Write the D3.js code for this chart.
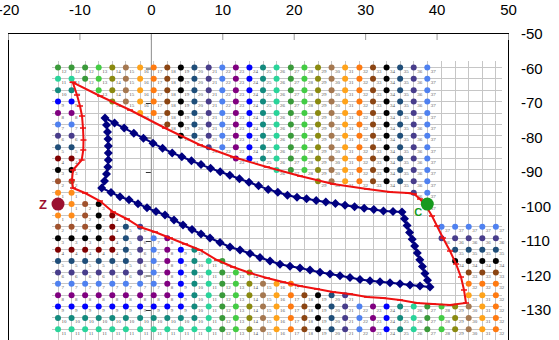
<!DOCTYPE html>
<html>
<head>
<meta charset="utf-8">
<script src="https://cdn.jsdelivr.net/npm/d3@7"></script>
<style>
  body { margin: 0; background: #fff; }
  svg { display: block; font-family: "Liberation Sans", Arial, sans-serif; }
</style>
</head>
<body>
<div class="chart"></div>
<script>
const xTicks = [-20, -10, 0, 10, 20, 30, 40, 50]
const yTicks = [-50, -60, -70, -80, -90, -100, -110, -120, -130, -140]

// lattice of the zone points
const gridX = [-13.0, -11.1, -9.2, -7.3, -5.4, -3.5, -1.5, 0.4, 2.3, 4.2, 6.1, 8.1, 10.0, 11.9, 13.8, 15.7, 17.6,
    19.6, 21.5, 23.4, 25.3, 27.2, 29.2, 31.1, 33.0, 34.9, 36.8, 38.7, 40.7, 42.6, 44.5, 46.4, 48.3]
const gridY = [-59.7, -63.0, -66.3, -69.6, -72.9, -76.2, -79.5, -82.8, -86.1, -89.4, -92.7, -96.0,
    -99.3, -102.6, -105.9, -109.2, -112.5, -115.8, -119.1, -122.4, -125.7, -129.0, -132.3, -135.6]

// step count of each lattice point (0 = no point)
const zoneLabels = [
    [12,12,12,13,14,15,16,17,18,19,20,21,22,23,24,25,26,27,28,29,30,31,32,33,34,35,36,37,0,0,0,0,0],
    [11,11,12,13,14,15,16,17,18,19,20,21,22,23,24,25,26,27,28,29,30,31,32,33,34,35,36,37,0,0,0,0,0],
    [10,10,0,13,14,15,16,17,18,19,20,21,22,23,24,25,26,27,28,29,30,31,32,33,34,35,36,37,0,0,0,0,0],
    [9,9,0,0,14,15,16,17,18,19,20,21,22,23,24,25,26,27,28,29,30,31,32,33,34,35,36,37,0,0,0,0,0],
    [8,8,0,0,0,0,16,17,18,19,20,21,22,23,24,25,26,27,28,29,30,31,32,33,34,35,36,37,0,0,0,0,0],
    [7,7,0,0,0,0,0,0,18,19,20,21,22,23,24,25,26,27,28,29,30,31,32,33,34,35,36,37,0,0,0,0,0],
    [6,6,0,0,0,0,0,0,0,19,20,21,22,23,24,25,26,27,28,29,30,31,32,33,34,35,36,37,0,0,0,0,0],
    [5,5,0,0,0,0,0,0,0,0,0,21,22,23,24,25,26,27,28,29,30,31,32,33,34,35,36,37,0,0,0,0,0],
    [4,4,0,0,0,0,0,0,0,0,0,0,0,23,24,25,26,27,28,29,30,31,32,33,34,35,36,37,0,0,0,0,0],
    [3,3,0,0,0,0,0,0,0,0,0,0,0,0,0,0,26,27,28,29,30,31,32,33,34,35,36,37,0,0,0,0,0],
    [2,2,0,0,0,0,0,0,0,0,0,0,0,0,0,0,0,0,0,29,30,31,32,33,34,35,36,37,0,0,0,0,0],
    [1,1,0,0,0,0,0,0,0,0,0,0,0,0,0,0,0,0,0,0,0,0,0,0,0,0,36,37,0,0,0,0,0],
    [0,1,2,3,0,0,0,0,0,0,0,0,0,0,0,0,0,0,0,0,0,0,0,0,0,0,0,37,0,0,0,0,0],
    [1,1,2,3,4,0,0,0,0,0,0,0,0,0,0,0,0,0,0,0,0,0,0,0,0,0,0,0,0,0,0,0,0],
    [2,2,2,3,4,5,6,0,0,0,0,0,0,0,0,0,0,0,0,0,0,0,0,0,0,0,0,0,37,37,37,37,37],
    [3,3,3,3,4,5,6,7,8,0,0,0,0,0,0,0,0,0,0,0,0,0,0,0,0,0,0,0,36,36,36,36,36],
    [4,4,4,4,4,5,6,7,8,9,10,0,0,0,0,0,0,0,0,0,0,0,0,0,0,0,0,0,0,35,35,35,35],
    [5,5,5,5,5,5,6,7,8,9,10,11,12,0,0,0,0,0,0,0,0,0,0,0,0,0,0,0,0,34,34,34,34],
    [6,6,6,6,6,6,6,7,8,9,10,11,12,13,14,0,0,0,0,0,0,0,0,0,0,0,0,0,0,0,33,33,33],
    [7,7,7,7,7,7,7,7,8,9,10,11,12,13,14,15,16,17,0,0,0,0,0,0,0,0,0,0,0,0,32,32,32],
    [8,8,8,8,8,8,8,8,8,9,10,11,12,13,14,15,16,17,18,19,20,21,0,0,0,0,0,0,0,0,31,31,32],
    [9,9,9,9,9,9,9,9,9,9,10,11,12,13,14,15,16,17,18,19,20,21,22,23,24,25,26,27,28,29,30,31,32],
    [10,10,10,10,10,10,10,10,10,10,10,11,12,13,14,15,16,17,18,19,20,21,22,23,24,25,26,27,28,29,30,31,32],
    [11,11,11,11,11,11,11,11,11,11,11,11,12,13,14,15,16,17,18,19,20,21,22,23,24,25,26,27,28,29,30,31,32]
]

// obstacle outline (red)
const outerX = [-10.94, -7.12, -2.92, 1.98, 6.88, 11.50, 16.26, 20.88, 25.50, 30.26, 33.48, 36.00, 36.84, 37.68,
    38.52, 39.36, 40.06, 40.90, 41.88, 42.72, 43.42, 43.84, 44.12, 41.88, 39.50, 37.26, 34.88, 32.50, 30.26, 27.88,
    25.50, 23.26, 20.88, 18.50, 16.26, 13.88, 11.50, 9.26, 6.88, 4.78, 2.68, 0.58, -1.52, -3.34, -5.30, -7.12,
    -9.22, -10.90, -11.04, -10.90, -9.68, -9.46, -9.43, -9.50, -9.64, -9.92, -10.34, -10.94]
const outerY = [-64.00, -67.97, -72.03, -77.25, -82.17, -85.65, -88.55, -91.16, -93.48, -94.93, -95.80, -96.09,
    -96.38, -97.83, -99.86, -102.75, -105.65, -109.13, -112.90, -116.67, -120.44, -124.20, -127.97, -128.55,
    -128.26, -127.97, -127.10, -126.52, -126.23, -125.36, -124.78, -123.91, -123.04, -121.89, -120.73, -119.28,
    -117.54, -115.51, -112.61, -110.87, -109.13, -107.39, -105.94, -103.62, -101.60, -98.41, -96.09, -94.64,
    -92.32, -89.42, -86.52, -83.62, -80.73, -77.25, -73.77, -70.87, -67.68, -64.00]

// inner outline (dark blue diamonds)
const innerX = [-6.42, -5.08, -3.73, -2.39, -1.04, 0.30, 1.64, 2.99, 4.33, 5.68, 7.02, 8.36, 9.71, 11.05, 12.40,
    13.74, 15.08, 16.43, 17.77, 19.12, 20.46, 21.80, 23.15, 24.49, 25.84, 27.18, 28.52, 29.87, 31.21, 32.56, 33.90,
    35.16, 35.51, 35.87, 36.22, 36.59, 36.94, 37.30, 37.65, 38.02, 38.37, 38.73, 39.08, 37.68, 36.28, 34.88, 33.48,
    32.08, 30.68, 29.28, 27.88, 26.48, 25.08, 23.68, 22.28, 20.88, 19.48, 18.08, 16.68, 15.28, 13.88, 12.48, 11.08,
    9.68, 8.28, 7.02, 5.76, 4.50, 3.24, 1.98, 0.72, -0.54, -1.80, -3.06, -4.32, -5.58, -6.88, -6.49, -6.21, -6.03,
    -5.96, -5.96, -5.96, -6.00, -6.07, -6.21, -6.42]
const innerY = [-74.35, -75.83, -77.28, -78.75, -80.20, -81.65, -83.10, -84.46, -85.59, -86.73, -87.86, -88.93,
    -89.94, -90.93, -91.94, -92.97, -94.02, -95.04, -95.88, -96.73, -97.31, -97.77, -98.23, -98.70, -99.16, -99.62,
    -100.06, -100.49, -100.90, -101.31, -101.45, -101.60, -103.57, -105.54, -107.54, -109.51, -111.48, -113.45,
    -115.42, -117.39, -119.39, -121.36, -123.33, -123.02, -122.73, -122.41, -122.12, -121.83, -121.51, -121.13,
    -120.58, -120.06, -119.57, -119.07, -118.44, -117.83, -117.34, -116.76, -115.80, -114.78, -113.62, -112.61,
    -111.74, -110.44, -109.13, -107.97, -106.67, -105.36, -103.91, -102.46, -101.45, -100.38, -99.19, -98.03,
    -97.16, -95.91, -94.64, -92.61, -90.58, -88.55, -86.52, -84.49, -82.46, -80.44, -78.41, -76.38, -74.35]

const endNames = ["Z", "C"]
const endX = [-13.0, 38.7]
const endY = [-99.3, -99.3]

// one colour per step count
const zoneColors = ["#fff",
    "#ff8c1a", "#a0522d", "#000000", "#800000", "#1f4e79", "#483d8b", "#4f81f0", "#800080", "#0000ff", "#138a7e",
    "#2ad49a", "#3a9a3a", "#44cc44", "#8a8a10", "#a57850", "#ffa31a", "#ff7a10", "#8b4513", "#000000", "#1f4e79",
    "#483d8b", "#4f81f0", "#800080", "#0000ff", "#138a7e", "#2ad49a", "#3a9a3a", "#44cc44", "#8a8a10", "#a57850",
    "#ffa31a", "#ff7a10", "#8b4513", "#000000", "#1f4e79", "#483d8b", "#4f81f0"]
const endColors = ["#9b1030", "#169a1e"]

const width = 559, height = 340

const x = d3.scaleLinear().domain([-20, 50]).range([8, 508])
const y = d3.scaleLinear().domain([-50, -140]).range([34, 344.5])

const svg = d3.select(".chart")
    .append("svg")
        .attr("width", width)
        .attr("height", height)

// lattice grid
const grid = svg.append("g")
    .attr("stroke", "#c6c6c6")
    .attr("stroke-width", 1)
    .attr("shape-rendering", "crispEdges")
grid.selectAll("line.v")
    .data(gridX)
    .enter()
    .append("line")
        .attr("x1", d => x(d))
        .attr("x2", d => x(d))
        .attr("y1", y(gridY[0]) - 6)
        .attr("y2", y(-140))
grid.selectAll("line.h")
    .data(gridY)
    .enter()
    .append("line")
        .attr("x1", x(gridX[0]) - 6)
        .attr("x2", x(gridX[gridX.length - 1]) + 6)
        .attr("y1", d => y(d))
        .attr("y2", d => y(d))

// vertical axis through x = 0
svg.append("g")
    .attr("transform", "translate(" + x(0) + ",0)")
    .call(d3.axisLeft(y).tickValues(yTicks.slice(1, -1)).tickSize(5).tickSizeOuter(0).tickFormat(""))
    .call(g => g.select(".domain").attr("stroke", "#8c8c8c"))
    .call(g => g.selectAll(".tick line").attr("stroke", "#333"))

// zone points
let points = []
zoneLabels.forEach((row, j) => {
    row.forEach((v, i) => {
        if (v > 0) points.push({i: i, j: j, v: v})
    })
})

svg.append("g").selectAll("circle")
    .data(points)
    .enter()
    .append("circle")
        .attr("cx", d => x(gridX[d.i]))
        .attr("cy", d => y(gridY[d.j]))
        .attr("r", 3)
        .attr("fill", d => zoneColors[d.v])

svg.append("g").selectAll("text")
    .data(points)
    .enter()
    .append("text")
        .attr("x", d => x(gridX[d.i]) + 3.5)
        .attr("y", d => y(gridY[d.j]) + 5.5)
        .attr("font-size", "5px")
        .attr("font-family", "Liberation Serif, serif")
        .attr("fill", "#555")
        .text(d => d.v)

// obstacle outline
const outerIdx = d3.range(outerX.length)
svg.append("path")
    .datum(outerIdx)
    .attr("fill", "none")
    .attr("stroke", "#ee1111")
    .attr("stroke-width", 2)
    .attr("d", d3.line().x(i => x(outerX[i])).y(i => y(outerY[i])))
svg.append("g").selectAll("line")
    .data(outerIdx)
    .enter()
    .append("line")
        .attr("x1", i => x(outerX[i]) - 3)
        .attr("x2", i => x(outerX[i]) + 3)
        .attr("y1", i => y(outerY[i]))
        .attr("y2", i => y(outerY[i]))
        .attr("stroke", "#ee1111")
        .attr("stroke-width", 1.5)

// inner outline
const innerIdx = d3.range(innerX.length)
svg.append("path")
    .datum(innerIdx)
    .attr("fill", "none")
    .attr("stroke", "#000080")
    .attr("stroke-width", 2)
    .attr("d", d3.line().x(i => x(innerX[i])).y(i => y(innerY[i])))
svg.append("g").selectAll("path")
    .data(innerIdx.slice(0, -1))
    .enter()
    .append("path")
        .attr("d", "M0,-4.5L4.5,0L0,4.5L-4.5,0Z")
        .attr("transform", i => "translate(" + x(innerX[i]) + "," + y(innerY[i]) + ")")
        .attr("fill", "#000080")

// start and goal
svg.append("g").selectAll("circle")
    .data(endNames)
    .enter()
    .append("circle")
        .attr("cx", (d, k) => x(endX[k]))
        .attr("cy", (d, k) => y(endY[k]))
        .attr("r", 6.5)
        .attr("fill", (d, k) => endColors[k])
svg.append("text")
    .attr("x", x(endX[0]) - 11)
    .attr("y", y(endY[0]) + 4.5)
    .attr("text-anchor", "end")
    .attr("font-size", "13px")
    .attr("font-weight", "bold")
    .attr("fill", endColors[0])
    .text(endNames[0])
svg.append("text")
    .attr("x", x(endX[1]) - 9)
    .attr("y", y(endY[1]) + 12)
    .attr("text-anchor", "middle")
    .attr("font-size", "11px")
    .attr("font-weight", "bold")
    .attr("fill", endColors[1])
    .text(endNames[1])

// frame
svg.append("rect")
    .attr("x", x(-20) + 0.5)
    .attr("y", y(-50) - 0.5)
    .attr("width", x(50) - x(-20))
    .attr("height", y(-140) - y(-50))
    .attr("fill", "none")
    .attr("stroke", "#000")
    .attr("stroke-width", 1)

// top axis
svg.append("g")
    .attr("transform", "translate(0," + y(-50) + ")")
    .call(d3.axisTop(x).tickValues(xTicks).tickSize(-6).tickSizeOuter(0).tickPadding(19)
        .tickFormat(d => String(d)))
    .call(g => g.select(".domain").remove())
    .call(g => g.selectAll(".tick line").attr("stroke", "#999"))
    .call(g => g.selectAll(".tick text").attr("font-size", "15px").attr("fill", "#000")
        .attr("font-family", "Liberation Sans, Arial, sans-serif"))

// right labels
svg.append("g")
    .attr("transform", "translate(" + x(50) + ",0)")
    .call(d3.axisRight(y).tickValues(yTicks).tickSize(0).tickPadding(13)
        .tickFormat(d => String(d)))
    .call(g => g.select(".domain").remove())
    .call(g => g.selectAll(".tick text").attr("font-size", "15px").attr("fill", "#000")
        .attr("font-family", "Liberation Sans, Arial, sans-serif"))
</script>
</body>
</html>
